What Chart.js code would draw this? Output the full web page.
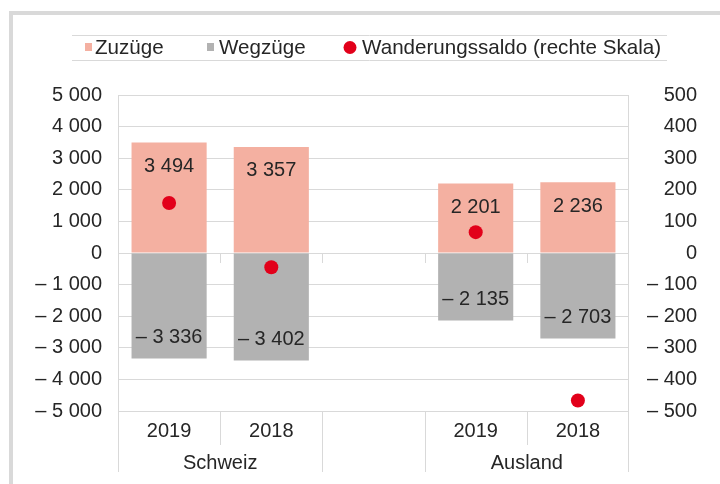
<!DOCTYPE html>
<html>
<head>
<meta charset="utf-8">
<script src="https://cdn.jsdelivr.net/npm/chart.js@4/dist/chart.umd.min.js"></script>
<style>
  html, body { margin: 0; padding: 0; background: #fff; }
  #frame { position: absolute; left: 9px; top: 11px; width: 800px; height: 600px;
           border-left: 4px solid #d9d9d9; border-top: 4px solid #d9d9d9; }
  #wrap { position: absolute; left: 0; top: 0; width: 720px; height: 484px; }
</style>
</head>
<body>
<div id="frame"></div>
<div id="wrap"><canvas id="barChart" width="720" height="484"></canvas></div>
<script>
var categories = ['2019', '2018', '', '2019', '2018'];
var groups = ['Schweiz', 'Ausland'];
var zuzuege = [3494, 3357, null, 2201, 2236];
var wegzuege = [-3336, -3402, null, -2135, -2703];
var saldo = [158, -45, null, 66, -467];

var FONT = '"Liberation Sans", Arial, sans-serif';
var TEXT = '#262626';
var GRID = '#d9d9d9';

function fmt(v) {
    var s = String(Math.abs(Math.round(v))).replace(/\B(?=(\d{3})+(?!\d))/g, ' ');
    return v < 0 ? '\u2013 ' + s : s;
}

// legend, value labels, category frame lines
var extras = {
    id: 'extras',
    afterDatasetsDraw: function(chart) {
        var c = chart.ctx;
        c.save();
        c.font = '20px ' + FONT;
        c.fillStyle = TEXT;
        c.textAlign = 'center';
        c.textBaseline = 'middle';
        chart.getDatasetMeta(0).data.forEach(function(el, i) {
            if (zuzuege[i] == null) return;
            c.fillText(fmt(zuzuege[i]), el.x, el.y + 24);
        });
        chart.getDatasetMeta(1).data.forEach(function(el, i) {
            if (wegzuege[i] == null) return;
            c.fillText(fmt(wegzuege[i]), el.x, el.y - 21);
        });
        c.restore();
    },
    afterDraw: function(chart) {
        var c = chart.ctx, a = chart.chartArea;
        var y = chart.scales.y;
        var n = categories.length;
        var step = (a.right - a.left) / n;
        var zero = y.getPixelForValue(0);
        c.save();
        c.strokeStyle = GRID;
        c.lineWidth = 1;
        c.beginPath();
        // plot sides
        c.moveTo(a.left + 0.5, a.top); c.lineTo(a.left + 0.5, 472);
        c.moveTo(a.right - 0.5, a.top); c.lineTo(a.right - 0.5, 472);
        for (var i = 1; i < n; i++) {
            var bx = Math.round(a.left + step * i) + 0.5;
            c.moveTo(bx, zero); c.lineTo(bx, zero + 10);
            var full = (i === 2 || i === 3);
            c.moveTo(bx, a.bottom); c.lineTo(bx, full ? 472 : 445);
        }
        c.stroke();

        c.font = '20px ' + FONT;
        c.fillStyle = TEXT;
        c.textAlign = 'center';
        c.textBaseline = 'middle';
        c.fillText(groups[0], a.left + step, 463);
        c.fillText(groups[1], a.left + step * 4, 463);

        // legend
        c.beginPath();
        c.moveTo(72, 35.5); c.lineTo(667, 35.5);
        c.moveTo(72, 60.5); c.lineTo(667, 60.5);
        c.stroke();
        c.font = '20.6px ' + FONT;
        c.textAlign = 'left';
        c.fillStyle = '#f4b0a1';
        c.fillRect(85, 43, 7, 8);
        c.fillStyle = '#b2b2b2';
        c.fillRect(207, 43, 7, 8);
        c.fillStyle = '#e2001a';
        c.beginPath(); c.arc(350, 47.5, 6.5, 0, Math.PI * 2); c.fill();
        c.fillStyle = TEXT;
        c.fillText('Zuzüge', 95, 48);
        c.fillText('Wegzüge', 219, 48);
        c.fillText('Wanderungssaldo (rechte Skala)', 362, 48);
        c.restore();
    }
};

var ctx = document.getElementById('barChart').getContext('2d');
var myChart = new Chart(ctx, {
    type: 'bar',
    data: {
        labels: categories,
        datasets: [{
            label: 'Zuzüge',
            data: zuzuege,
            backgroundColor: '#f4b0a1',
            categoryPercentage: 1,
            barPercentage: 0.735,
            order: 2
        },
        {
            label: 'Wegzüge',
            data: wegzuege,
            backgroundColor: '#b2b2b2',
            categoryPercentage: 1,
            barPercentage: 0.735,
            order: 2
        },
        {
            label: 'Wanderungssaldo (rechte Skala)',
            type: 'line',
            data: saldo,
            yAxisID: 'y1',
            showLine: false,
            pointRadius: 7,
            pointHoverRadius: 7,
            pointBackgroundColor: '#e2001a',
            pointBorderWidth: 0,
            borderColor: '#e2001a',
            order: 0
        }]
    },
    options: {
        responsive: false,
        animation: false,
        layout: { padding: { top: 95, left: 0, right: 23, bottom: 0 } },
        plugins: {
            legend: { display: false },
            tooltip: { enabled: false }
        },
        scales: {
            x: {
                stacked: true,
                grid: { display: false, drawTicks: false },
                border: { display: false },
                ticks: { color: TEXT, font: { family: FONT, size: 20 }, padding: 8, maxRotation: 0, autoSkip: false },
                afterFit: function(s) { s.height = 73; }
            },
            y: {
                stacked: true,
                min: -5000,
                max: 5000,
                grid: { color: GRID, drawTicks: false },
                border: { display: false },
                ticks: { stepSize: 1000, color: TEXT, font: { family: FONT, size: 20 }, padding: 16,
                         callback: function(v) { return fmt(v); } },
                afterFit: function(s) { s.width = 118; }
            },
            y1: {
                position: 'right',
                min: -500,
                max: 500,
                grid: { display: false, drawTicks: false },
                border: { display: false },
                ticks: { stepSize: 100, color: TEXT, font: { family: FONT, size: 20 }, padding: 10, crossAlign: 'far',
                         callback: function(v) { return fmt(v); } },
                afterFit: function(s) { s.width = 68; }
            }
        }
    },
    plugins: [extras]
});
</script>
</body>
</html>
